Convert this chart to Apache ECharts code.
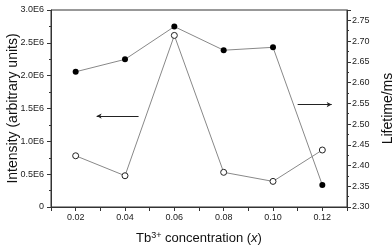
<!DOCTYPE html>
<html><head><meta charset="utf-8">
<script src="https://cdn.jsdelivr.net/npm/echarts@6/dist/echarts.min.js"></script>
<style>html,body{margin:0;padding:0;background:#fff}#c{width:392px;height:250px}</style>
</head><body><div id="c"></div>
<script>
const concentrations = [0.02, 0.04, 0.06, 0.08, 0.10, 0.12];
const intensity = [0.78e6, 0.476e6, 2.613e6, 0.528e6, 0.39e6, 0.868e6];
const lifetime = [2.626, 2.656, 2.735, 2.678, 2.685, 2.353];
const xTickLabels = ['0.02', '0.04', '0.06', '0.08', '0.10', '0.12'];
const leftTickLabels = ['0', '0.5E6', '1.0E6', '1.5E6', '2.0E6', '2.5E6', '3.0E6'];
const rightTickLabels = ['2.30','2.35','2.40','2.45','2.50','2.55','2.60','2.65','2.70','2.75'];
const leftArrow = [[0.0455, 1.385e6], [0.0285, 1.385e6]];
const rightArrow = [[0.110, 2.547], [0.1238, 2.547]];

const font = 'Liberation Sans, Arial, sans-serif';
const axisCol = '#333';
const chart = echarts.init(document.getElementById('c'));
function xLabel(v) {
  const s = v.toFixed(2);
  return xTickLabels.indexOf(s) >= 0 ? s : '';
}
chart.setOption({
  animation: false,
  grid: { left: 51, right: 45, top: 10, bottom: 43, show: true, borderColor: axisCol, borderWidth: 1,
          containLabel: false, outerBoundsMode: 'none' },
  xAxis: {
    type: 'value', min: 0.01, max: 0.13, interval: 0.01,
    axisLine: { lineStyle: { color: axisCol } },
    axisTick: { length: 4, lineStyle: { color: axisCol } },
    splitLine: { show: false },
    axisLabel: { formatter: xLabel, fontSize: 9, color: '#222', fontFamily: font, margin: 6 },
    name: '{n|Tb}{s|3+}{n| concentration (}{i|x}{n|)}',
    nameLocation: 'middle', nameGap: 24, nameMoveOverlap: false,
    nameTextStyle: { rich: {
      n: { fontSize: 13, fontFamily: font, color: '#111' },
      s: { fontSize: 9, fontFamily: font, color: '#111', verticalAlign: 'top', padding: [0,0,6,0] },
      i: { fontSize: 13, fontFamily: font, color: '#111', fontStyle: 'italic' }
    } }
  },
  yAxis: [{
    type: 'value', min: 0, max: 3e6, interval: 0.5e6, position: 'left',
    axisLine: { show: true, lineStyle: { color: axisCol } },
    axisTick: { show: true, length: 4, lineStyle: { color: axisCol } },
    minorTick: { show: true, splitNumber: 2, length: 2, lineStyle: { color: axisCol } },
    splitLine: { show: false },
    axisLabel: { formatter: v => leftTickLabels[Math.round(v / 0.5e6)], fontSize: 9, color: '#222', fontFamily: font, margin: 7 },
    name: 'Intensity (arbitrary units)', nameLocation: 'middle', nameGap: 31, nameMoveOverlap: false,
    nameTextStyle: { fontSize: 14, fontFamily: font, color: '#111' }
  }, {
    type: 'value', min: 2.30, max: 2.775, interval: 0.05, position: 'right',
    axisLine: { show: true, lineStyle: { color: axisCol } },
    axisTick: { show: true, length: 4, lineStyle: { color: axisCol } },
    minorTick: { show: true, splitNumber: 2, length: 2, lineStyle: { color: axisCol } },
    splitLine: { show: false },
    axisLabel: { formatter: v => { const s = v.toFixed(2); return rightTickLabels.indexOf(s) >= 0 ? s : ''; }, fontSize: 9, color: '#222', fontFamily: font, margin: 5 },
    name: 'Lifetime/ms', nameLocation: 'middle', nameGap: 34, nameRotate: 90, nameMoveOverlap: false,
    nameTextStyle: { fontSize: 14, fontFamily: font, color: '#111' }
  }],
  series: [{
    type: 'line', yAxisIndex: 0,
    data: concentrations.map((c, i) => [c, intensity[i]]),
    symbol: 'circle', symbolSize: 6,
    itemStyle: { color: '#fff', borderColor: '#222', borderWidth: 1 },
    lineStyle: { color: '#888', width: 1 },
    markLine: { silent: true, symbol: ['none', 'arrow'], symbolSize: [4, 5], label: { show: false },
      lineStyle: { color: '#222', width: 1, type: 'solid' },
      data: [[{ coord: leftArrow[0] }, { coord: leftArrow[1] }]] },
    z: 3
  }, {
    type: 'line', yAxisIndex: 1,
    data: concentrations.map((c, i) => [c, lifetime[i]]),
    symbol: 'circle', symbolSize: 6,
    itemStyle: { color: '#000', borderColor: '#000', borderWidth: 0 },
    lineStyle: { color: '#888', width: 1 },
    markLine: { silent: true, symbol: ['none', 'arrow'], symbolSize: [4, 5], label: { show: false },
      lineStyle: { color: '#222', width: 1, type: 'solid' },
      data: [[{ coord: rightArrow[0] }, { coord: rightArrow[1] }]] },
    z: 4
  }]
});
</script></body></html>
